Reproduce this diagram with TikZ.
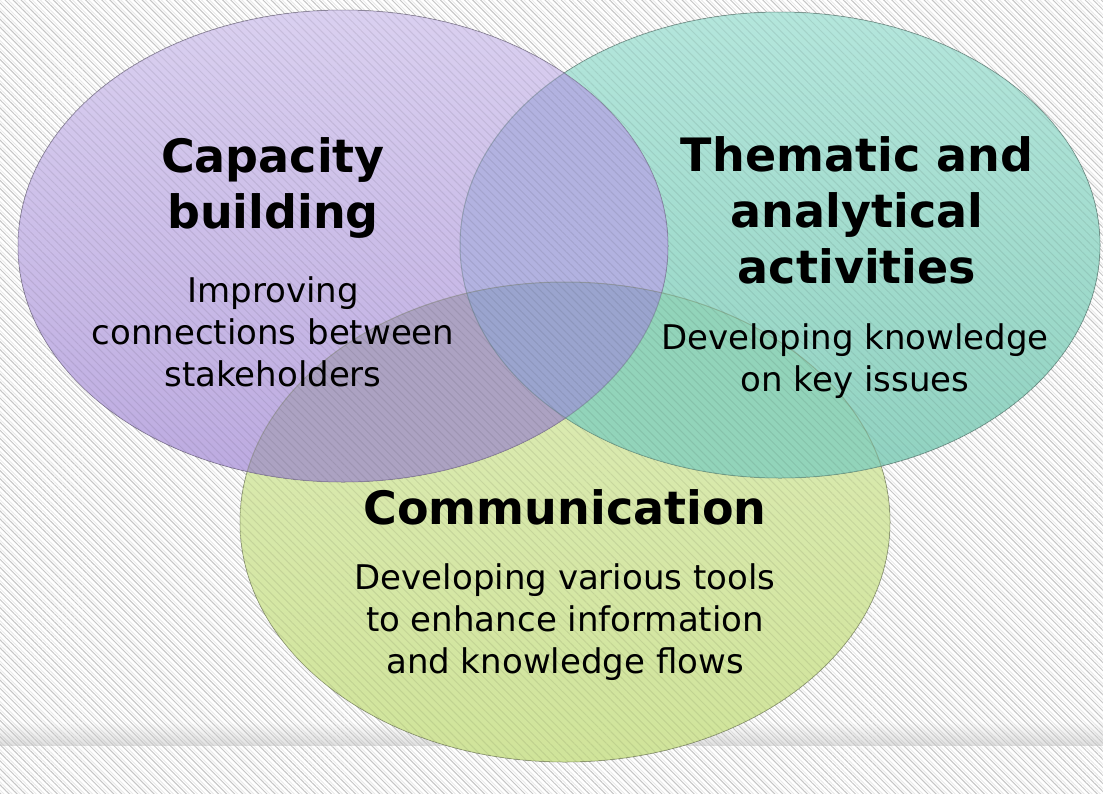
\documentclass[tikz,border=0pt]{standalone}
\usepackage{fontspec}
\setmainfont{DejaVu Sans}
\usetikzlibrary{patterns.meta}
\definecolor{captop}{RGB}{218,208,240}
\definecolor{capbot}{RGB}{188,170,224}
\definecolor{thematop}{RGB}{180,230,220}
\definecolor{themabot}{RGB}{144,210,192}
\definecolor{commtop}{RGB}{222,236,184}
\definecolor{commbot}{RGB}{208,228,154}
\definecolor{capthema}{RGB}{178,178,224}
\definecolor{capcomm}{RGB}{172,162,194}
\definecolor{themacomm}{RGB}{146,212,186}
\definecolor{allthree}{RGB}{154,164,206}
\definecolor{hatchgray}{RGB}{198,198,198}
\tikzset{every node/.style={align=center, inner sep=0pt}}
\def\capshape{(343,246) ellipse [x radius=325pt, y radius=236pt]}
\def\themashape{(780,245) ellipse [x radius=320pt, y radius=233pt]}
\def\commshape{(565,522) ellipse [x radius=325pt, y radius=240pt]}

\begin{document}
\begin{tikzpicture}[x=1pt,y=-1pt,
    rim/.style={draw=#1, draw opacity=0.35, line width=1pt},
    stripes/.style={pattern={Lines[angle=-45,distance=5.7pt,line width=1pt]}},
    head/.style={font=\bfseries\fontsize{46}{56}\selectfont},
    sub/.style={font=\fontsize{34}{42}\selectfont}]
  \useasboundingbox (0,0) rectangle (1103,793);
  % background with stripes
  \fill[white] (0,0) rectangle (1103,793);
  \fill[top color=white, bottom color=black!12] (0,722) rectangle (1103,745);
  \fill[stripes, pattern color=hatchgray] (0,0) rectangle (1103,793);
  % the three sets
  \fill[top color=commtop, bottom color=commbot] \commshape;
  \fill[top color=thematop, bottom color=themabot] \themashape;
  \fill[top color=captop, bottom color=capbot] \capshape;
  % overlaps
  \begin{scope}
    \clip \capshape;
    \fill[capthema] \themashape;
    \fill[capcomm] \commshape;
    \clip \themashape;
    \fill[allthree] \commshape;
  \end{scope}
  \begin{scope}
    \clip \themashape;
    \begin{scope}[even odd rule]
      \clip \capshape (0,0) rectangle (1103,793);
      \fill[themacomm] \commshape;
    \end{scope}
  \end{scope}
  % faint stripes on the sets
  \begin{scope}[transparency group, opacity=0.08]
    \fill[stripes, pattern color=black] (0,0) rectangle (1103,793);
  \end{scope}
  % rims
  \draw[rim=commbot!50!black] \commshape;
  \draw[rim=themabot!50!black] \themashape;
  \draw[rim=capbot!50!black] \capshape;
  % labels
  \node[head] (cap) at (273,188) {Capacity\\building};
  \node[sub] (capsub) at (273,332) {Improving\\connections between\\stakeholders};
  \node[head] (thema) at (857,210) {Thematic and\\analytical\\activities};
  \node[sub] (themasub) at (855,361) {Developing knowledge\\on key issues};
  \node[head] (comm) at (565,507) {Communication};
  \node[sub] (commsub) at (565,622) {Developing various tools\\to enhance information\\and knowledge flows};
\end{tikzpicture}
\end{document}
